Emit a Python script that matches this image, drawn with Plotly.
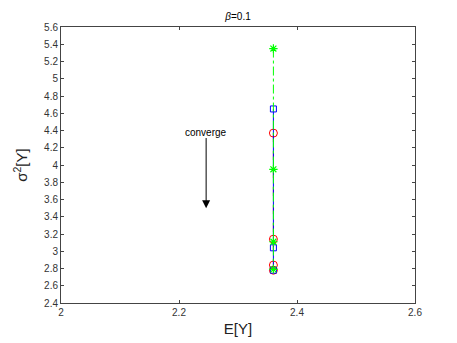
import plotly.graph_objects as go

# ── data ───────────────────────────────────────────────────────────────────
ey = 2.36  # all iterates share the same mean

green_var = [5.35, 3.95, 3.11, 2.79]
blue_var = [4.65, 3.04, 2.78]
red_var = [4.37, 3.14, 2.84, 2.78]

x_ticks = [2, 2.2, 2.4, 2.6]
y_ticks = [2.4, 2.6, 2.8, 3, 3.2, 3.4, 3.6, 3.8, 4, 4.2, 4.4, 4.6, 4.8, 5, 5.2, 5.4, 5.6]

fig = go.Figure()

# drawn red -> blue -> green so the green dash-dot sits on top, as in the reference
fig.add_trace(go.Scatter(
    x=[ey] * len(red_var), y=red_var, mode="lines+markers",
    line=dict(color="#ff0000", width=1, dash="dash"),
    marker=dict(symbol="circle-open", size=8, color="#ff0000",
                line=dict(color="#ff0000", width=1)),
))
fig.add_trace(go.Scatter(
    x=[ey] * len(blue_var), y=blue_var, mode="lines+markers",
    line=dict(color="#0000ff", width=1),
    marker=dict(symbol="square-open", size=6, color="#0000ff",
                line=dict(color="#0000ff", width=1)),
))
fig.add_trace(go.Scatter(
    x=[ey] * len(green_var), y=green_var, mode="lines+markers",
    line=dict(color="#00ff00", width=1, dash="dashdot"),
    marker=dict(symbol="asterisk-open", size=7, color="#00ff00",
                line=dict(color="#00ff00", width=1.2)),
))

# arrow + label
fig.add_annotation(
    x=2.246, y=3.50, ax=2.246, ay=4.33, xref="x", yref="y", axref="x", ayref="y",
    showarrow=True, arrowhead=2, arrowsize=1.6, arrowwidth=1, arrowcolor="black", text="",
)
fig.add_annotation(
    x=2.246, y=4.38, xref="x", yref="y", text="converge", showarrow=False,
    font=dict(size=10, color="black"),
)

axis_common = dict(
    showgrid=False, zeroline=False, showline=True, linecolor="#444", linewidth=1,
    mirror="ticks", ticks="inside", ticklen=3, tickcolor="#444",
    tickfont=dict(size=10, color="#333"),
)

fig.update_xaxes(
    range=[2, 2.6], tickvals=x_ticks,
    title=dict(text="E[Y]", font=dict(size=15, color="#222"), standoff=6),
    **axis_common,
)
fig.update_yaxes(
    range=[2.4, 5.6], tickvals=y_ticks,
    title=dict(text="σ<sup>2</sup>[Y]", font=dict(size=15, color="#222"), standoff=12),
    **axis_common,
)

fig.update_layout(
    width=457, height=343,
    margin=dict(l=53, r=50, t=19, b=48),
    title=dict(text="<i>β</i>=0.1", xref="paper", x=0.5, xanchor="center",
               y=0.985, yanchor="top", font=dict(size=10, color="black")),
    font=dict(family="Liberation Sans, Arial, sans-serif"),
    plot_bgcolor="white", paper_bgcolor="white",
    showlegend=False,
)

fig.write_html("out.html")
